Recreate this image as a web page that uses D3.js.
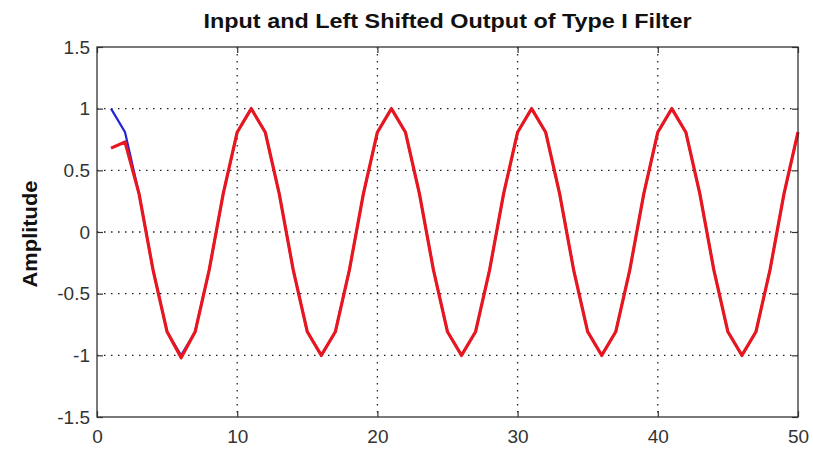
<!DOCTYPE html>
<html>
<head>
<title>Input and Left Shifted Output of Type I Filter</title>
<script src="https://cdn.jsdelivr.net/npm/d3@7"></script>
<style>
  html, body { margin: 0; background: #fff; }
  .tick-label { font-family: "Liberation Sans", Arial, sans-serif; font-size: 19px; fill: #333; }
  .title { font-family: "Liberation Sans", Arial, sans-serif; font-weight: bold; fill: #111; }
  .grid line { stroke: #222; stroke-width: 1.3; stroke-dasharray: 1.5 5.5; }
</style>
</head>
<body>
<svg width="813" height="449"></svg>
<script>
// sample index n
var samples = [1,2,3,4,5,6,7,8,9,10,11,12,13,14,15,16,17,18,19,20,
               21,22,23,24,25,26,27,28,29,30,31,32,33,34,35,36,37,38,39,40,
               41,42,43,44,45,46,47,48,49,50];

// input signal (blue)
var inputSig = [1,0.809,0.309,-0.309,-0.809,-1,-0.809,-0.309,0.309,0.809,
                1,0.809,0.309,-0.309,-0.809,-1,-0.809,-0.309,0.309,0.809,
                1,0.809,0.309,-0.309,-0.809,-1,-0.809,-0.309,0.309,0.809,
                1,0.809,0.309,-0.309,-0.809,-1,-0.809,-0.309,0.309,0.809,
                1,0.809,0.309,-0.309,-0.809,-1,-0.809,-0.309,0.309,0.809];

// left shifted filter output (red)
var outputSig = [0.68,0.73,0.309,-0.309,-0.809,-1.02,-0.809,-0.309,0.309,0.809,
                 1,0.809,0.309,-0.309,-0.809,-1,-0.809,-0.309,0.309,0.809,
                 1,0.809,0.309,-0.309,-0.809,-1,-0.809,-0.309,0.309,0.809,
                 1,0.809,0.309,-0.309,-0.809,-1,-0.809,-0.309,0.309,0.809,
                 1,0.809,0.309,-0.309,-0.809,-1,-0.809,-0.309,0.309,0.809];

var xTicks = [0,10,20,30,40,50];
var yTicks = [-1.5,-1,-0.5,0,0.5,1,1.5];
var yGrid = [-1,-0.5,0,0.5,1];
var xGrid = [10,20,30,40];

var svg = d3.select("svg"),
    margin = {top: 47, right: 15, bottom: 32, left: 97},
    width = +svg.attr("width") - margin.left - margin.right,
    height = +svg.attr("height") - margin.top - margin.bottom;

var x = d3.scaleLinear().domain([0, 50]).range([0, width]),
    y = d3.scaleLinear().domain([-1.5, 1.5]).range([height, 0]);

var g = svg.append("g")
    .attr("transform", "translate(" + margin.left + "," + margin.top + ")");

// dotted grid
var grid = g.append("g").attr("class", "grid");
grid.selectAll(".gx").data(xGrid).enter().append("line")
    .attr("x1", function(d) { return x(d); }).attr("x2", function(d) { return x(d); })
    .attr("y1", 0).attr("y2", height);
grid.selectAll(".gy").data(yGrid).enter().append("line")
    .attr("y1", function(d) { return y(d); }).attr("y2", function(d) { return y(d); })
    .attr("x1", 0).attr("x2", width);

var line = d3.line()
    .x(function(d) { return x(d[0]); })
    .y(function(d) { return y(d[1]); });

g.append("path")
    .datum(d3.zip(samples, inputSig))
    .attr("fill", "none")
    .attr("stroke", "#2424d8")
    .attr("stroke-width", 2.2)
    .attr("d", line);

g.append("path")
    .datum(d3.zip(samples, outputSig))
    .attr("fill", "none")
    .attr("stroke", "#e8161e")
    .attr("stroke-width", 3.2)
    .attr("stroke-linejoin", "round")
    .attr("d", line);

// axes with inward ticks on all sides
function styleAxis(sel) {
  sel.select(".domain").remove();
  sel.selectAll(".tick line").attr("stroke", "#333").attr("stroke-width", 1.2);
  sel.selectAll("text").attr("class", "tick-label");
}
g.append("g")
    .attr("transform", "translate(0," + height + ")")
    .call(d3.axisBottom(x).tickValues(xTicks).tickSizeInner(-6).tickSizeOuter(0).tickPadding(13).tickFormat(d3.format("d")))
    .call(styleAxis);
g.append("g")
    .call(d3.axisTop(x).tickValues(xTicks).tickSizeInner(-6).tickSizeOuter(0).tickFormat(""))
    .call(styleAxis);
g.append("g")
    .call(d3.axisLeft(y).tickValues(yTicks).tickSizeInner(-6).tickSizeOuter(0).tickPadding(7).tickFormat(function(d) { return String(d); }))
    .call(styleAxis);
g.append("g")
    .attr("transform", "translate(" + width + ",0)")
    .call(d3.axisRight(y).tickValues(yTicks).tickSizeInner(-6).tickSizeOuter(0).tickFormat(""))
    .call(styleAxis);

// box
g.append("rect")
    .attr("width", width).attr("height", height)
    .attr("fill", "none").attr("stroke", "#333").attr("stroke-width", 1.3);

svg.append("text")
    .attr("class", "title")
    .attr("x", margin.left + width / 2).attr("y", 28)
    .attr("text-anchor", "middle")
    .style("font-size", "21px")
    .attr("textLength", 488)
    .attr("lengthAdjust", "spacingAndGlyphs")
    .text("Input and Left Shifted Output of Type I Filter");

svg.append("text")
    .attr("class", "title")
    .attr("transform", "translate(37," + 234 + ") rotate(-90)")
    .attr("text-anchor", "middle")
    .style("font-size", "20px")
    .attr("textLength", 107)
    .attr("lengthAdjust", "spacingAndGlyphs")
    .text("Amplitude");
</script>
</body>
</html>
